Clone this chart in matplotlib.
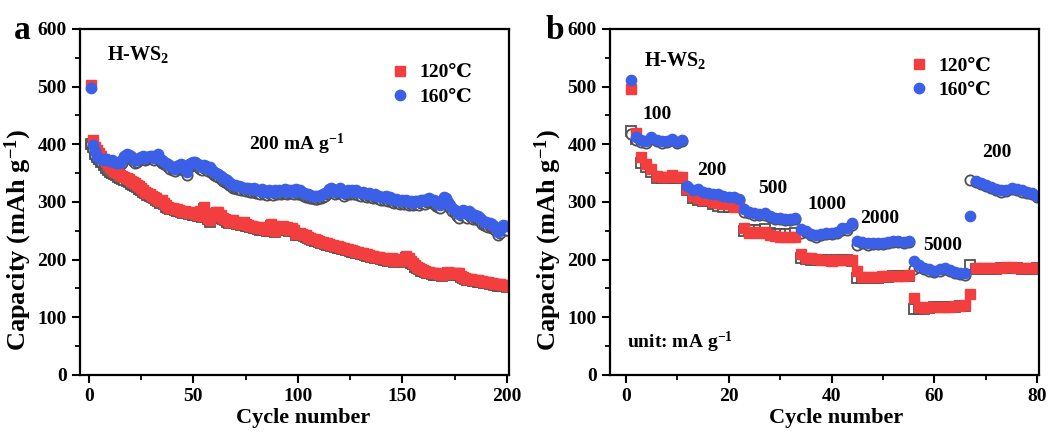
import matplotlib
matplotlib.use("Agg")
import matplotlib.pyplot as plt
from matplotlib.ticker import MultipleLocator
from matplotlib.lines import Line2D

plt.rcParams["font.family"] = ["Liberation Serif", "DejaVu Serif", "DejaVu Sans"]
plt.rcParams["font.weight"] = "bold"
plt.rcParams["mathtext.fontset"] = "custom"
plt.rcParams["mathtext.rm"] = "Liberation Serif:bold"
plt.rcParams["mathtext.bf"] = "Liberation Serif:bold"
plt.rcParams["mathtext.it"] = "Liberation Serif:bold"
plt.rcParams["mathtext.default"] = "rm"

RED = "#F23E3E"
BLUE = "#3B5FE6"
GRAY = "#505050"

# ---- panel a: cycling at 200 mA g-1 (cycles 1..200) ----
cycles_a = list(range(1, 201))

a_120_dis = [
    503, 407, 395, 390, 385, 380, 375, 370, 365, 360,
    357, 354, 352, 350, 347, 345, 343, 341, 339, 337,
    335, 333, 330, 327, 324, 321, 318, 315, 313, 311,
    309, 306, 303, 301, 304, 298, 294, 292, 290, 289,
    288, 287, 286, 284, 283, 285, 282, 281, 283, 280,
    279, 278, 284, 276, 291, 277, 273, 268, 276, 279,
    283, 282, 277, 272, 270, 268, 266, 267, 268, 265,
    264, 263, 262, 265, 261, 260, 259, 258, 257, 256,
    255, 254, 256, 253, 252, 251, 262, 258, 250, 254,
    257, 255, 258, 253, 256, 252, 255, 251, 244, 245,
    247, 244, 243, 242, 240, 238, 236, 235, 234, 232,
    231, 230, 229, 228, 227, 226, 225, 224, 223, 222,
    221, 220, 219, 218, 217, 216, 215, 214, 213, 212,
    211, 210, 209, 208, 207, 206, 205, 204, 204, 203,
    202, 201, 200, 199, 203, 198, 200, 201, 199, 200,
    198, 206, 203, 197, 194, 190, 187, 185, 183, 182,
    180, 179, 178, 177, 176, 176, 175, 175, 174, 175,
    176, 178, 177, 175, 176, 177, 176, 172, 170, 168,
    167, 166, 166, 165, 165, 164, 163, 163, 162, 162,
    161, 160, 159, 158, 158, 157, 157, 156, 156, 155,
]
a_120_chg = [
    401, 396, 384, 378, 374, 369, 364, 359, 355, 352,
    350, 348, 346, 344, 342, 340, 338, 336, 334, 332,
    330, 328, 326, 323, 320, 317, 315, 312, 310, 308,
    306, 304, 301, 299, 302, 296, 292, 290, 288, 287,
    286, 285, 284, 282, 281, 282, 280, 279, 280, 278,
    277, 276, 281, 274, 287, 274, 271, 266, 273, 276,
    279, 279, 274, 270, 268, 266, 264, 265, 265, 263,
    262, 261, 260, 262, 259, 258, 257, 256, 255, 254,
    253, 252, 253, 251, 250, 249, 258, 255, 248, 251,
    254, 252, 255, 251, 253, 250, 252, 249, 242, 243,
    245, 242, 241, 240, 238, 236, 234, 233, 232, 230,
    229, 228, 227, 226, 225, 224, 223, 222, 221, 220,
    219, 218, 217, 216, 215, 214, 213, 212, 211, 210,
    209, 208, 207, 206, 205, 204, 203, 202, 202, 201,
    200, 199, 198, 197, 200, 196, 198, 199, 197, 198,
    196, 203, 200, 195, 192, 188, 185, 183, 181, 180,
    178, 177, 176, 175, 174, 174, 173, 173, 172, 173,
    174, 176, 175, 173, 174, 175, 174, 170, 168, 166,
    165, 164, 164, 163, 163, 162, 161, 161, 160, 160,
    159, 158, 157, 156, 156, 155, 155, 154, 154, 153,
]
a_160_dis = [
    497, 398, 388, 380, 376, 374, 373, 375, 372, 371,
    373, 370, 368, 370, 368, 372, 380, 383, 382, 380,
    375, 372, 373, 376, 378, 379, 377, 378, 380, 379,
    377, 380, 384, 375, 372, 370, 368, 365, 362, 360,
    358, 362, 364, 366, 360, 358, 352, 365, 368, 370,
    369, 366, 363, 360, 364, 362, 358, 360, 355, 352,
    350, 348, 345, 342, 340, 338, 335, 332, 330, 329,
    328, 327, 326, 325, 324, 325, 323, 322, 324, 321,
    320, 319, 322, 318, 317, 320, 318, 317, 320, 318,
    321, 319, 320, 322, 318, 321, 320, 318, 322, 319,
    320, 317, 315, 314, 313, 312, 311, 310, 310, 311,
    312, 313, 315, 318, 322, 325, 322, 318, 321, 324,
    318, 316, 318, 320, 319, 321, 318, 320, 317, 316,
    318, 315, 314, 316, 313, 312, 313, 311, 310, 309,
    308, 310, 306, 308, 305, 304, 305, 303, 302, 304,
    301, 303, 300, 302, 299, 301, 302, 300, 303, 304,
    302, 305, 306, 304, 303, 298, 296, 295, 303, 309,
    306, 300, 295, 290, 286, 282, 279, 283, 286, 282,
    279, 284, 280, 276, 278, 275, 273, 268, 266, 265,
    263, 264, 261, 259, 255, 248, 252, 260, 258, 258,
]
a_160_chg = [
    400, 392, 380, 374, 371, 369, 368, 370, 367, 366,
    368, 366, 364, 366, 364, 368, 376, 379, 378, 376,
    371, 368, 369, 372, 374, 375, 373, 374, 376, 375,
    373, 376, 380, 371, 368, 366, 364, 361, 357, 355,
    353, 357, 359, 361, 355, 353, 347, 360, 363, 365,
    364, 361, 358, 355, 359, 357, 353, 355, 350, 347,
    345, 343, 340, 337, 335, 333, 330, 327, 325, 324,
    323, 322, 321, 320, 319, 320, 318, 317, 319, 316,
    315, 314, 317, 313, 312, 315, 313, 312, 315, 313,
    316, 314, 315, 317, 313, 316, 315, 313, 317, 314,
    315, 312, 310, 309, 308, 307, 306, 305, 305, 306,
    307, 308, 310, 313, 317, 320, 317, 313, 316, 319,
    313, 311, 313, 315, 314, 316, 313, 315, 312, 311,
    313, 310, 309, 311, 308, 307, 308, 306, 305, 304,
    303, 305, 301, 303, 300, 299, 300, 298, 297, 299,
    296, 298, 295, 297, 294, 296, 297, 295, 298, 299,
    297, 300, 301, 299, 298, 293, 291, 290, 298, 303,
    300, 294, 289, 284, 280, 276, 273, 277, 280, 276,
    273, 278, 274, 270, 272, 269, 267, 262, 260, 259,
    257, 258, 255, 253, 249, 242, 246, 254, 252, 252,
]

# ---- panel b: rate test (cycles 1..80) ----
cycles_b = list(range(1, 81))
b_120_dis = [
    495, 420, 378, 365, 358, 345, 343, 344, 347, 343, 343,
    322, 310, 307, 303, 305, 300, 298, 297, 296, 292, 293,
    255, 246, 248, 247, 248, 242, 241, 239, 240, 240, 240,
    210, 203, 202, 201, 200, 200, 198, 200, 200, 200, 199,
    180, 170, 170, 170, 170, 171, 171, 172, 172, 172, 173,
    134, 117, 116, 117, 118, 118, 118, 118, 119, 120, 121,
    141, 185, 185, 185, 185, 185, 186, 187, 187, 186, 185, 185, 185, 186,
]
b_120_chg = [
    423, 410, 368, 360, 352, 341, 341, 341, 342, 341, 341,
    320, 307, 303, 301, 302, 297, 293, 292, 292, 291, 291,
    250, 252, 252, 252, 253, 246, 245, 245, 245, 245, 246,
    203, 201, 200, 200, 199, 199, 198, 199, 199, 199, 198,
    168, 169, 169, 169, 169, 170, 170, 171, 171, 171, 172,
    114, 115, 115, 116, 117, 117, 117, 117, 118, 119, 120,
    190, 184, 184, 184, 184, 184, 185, 186, 186, 185, 184, 184, 184, 185,
]
b_160_dis = [
    512, 413, 407, 405, 413, 407, 405, 406, 410, 404, 408,
    327, 320, 322, 317, 315, 313, 313, 310, 308, 308, 305,
    288, 283, 280, 279, 280, 276, 272, 272, 270, 271, 272,
    253, 250, 245, 242, 245, 246, 246, 248, 255, 254, 263,
    233, 230, 228, 229, 229, 229, 230, 232, 232, 231, 233,
    198, 190, 185, 183, 180, 183, 185, 182, 178, 177, 176,
    276, 337, 333, 330, 326, 322, 320, 321, 325, 323, 320, 318, 315, 311,
]
b_160_chg = [
    417, 408, 404, 403, 410, 405, 403, 404, 407, 402, 405,
    323, 318, 319, 315, 313, 311, 311, 308, 306, 306, 303,
    282, 281, 278, 277, 278, 274, 270, 270, 268, 269, 270,
    247, 248, 243, 240, 243, 244, 244, 246, 252, 252, 260,
    226, 228, 226, 227, 227, 227, 228, 230, 230, 229, 231,
    184, 188, 183, 181, 178, 181, 183, 180, 176, 175, 174,
    338, 335, 331, 328, 324, 320, 318, 319, 323, 321, 318, 316, 313, 309,
]

rate_labels = ["100", "200", "500", "1000", "2000", "5000", "200"]
rate_label_xy = [(6.1, 451), (16.8, 355), (28.6, 324), (39.1, 295),
                 (49.4, 272), (61.6, 225), (72.2, 385)]

fig = plt.figure(figsize=(10.59, 4.32), dpi=100)
ax_a = fig.add_axes([0.0755, 0.132, 0.405, 0.801])
ax_b = fig.add_axes([0.576, 0.132, 0.405, 0.801])


def draw_panel(ax, x, r_dis, r_chg, b_dis, b_chg):
    ax.plot(x, r_chg, ls="none", marker="s", ms=6.8, mfc="white", mec=GRAY, mew=1.3)
    ax.plot(x, b_chg, ls="none", marker="o", ms=7.4, mfc="white", mec=GRAY, mew=1.3)
    ax.plot(x, r_dis, ls="none", marker="s", ms=6.8, color=RED, mec=RED)
    ax.plot(x, b_dis, ls="none", marker="o", ms=7.4, color=BLUE, mec=BLUE)


def style_axes(ax, xmaj, xmin, leg_anchor, title_xy, xlab_x):
    ax.set_ylim(0, 600)
    ax.yaxis.set_major_locator(MultipleLocator(100))
    ax.yaxis.set_minor_locator(MultipleLocator(50))
    ax.xaxis.set_major_locator(MultipleLocator(xmaj))
    ax.xaxis.set_minor_locator(MultipleLocator(xmin))
    for s in ax.spines.values():
        s.set_linewidth(1.6)
    ax.tick_params(which="major", direction="out", length=6, width=1.5,
                   labelsize=14, top=False, right=False)
    ax.tick_params(which="minor", direction="out", length=3.5, width=1.3,
                   top=False, right=False)
    for lab in ax.get_xticklabels() + ax.get_yticklabels():
        lab.set_fontweight("bold")
    ax.set_xlabel("Cycle number", fontsize=16, fontweight="bold")
    ax.set_ylabel("Capacity (mAh g$^{-1}$)", fontsize=19, fontweight="bold")
    ax.xaxis.set_label_coords(xlab_x, -0.095)
    ax.yaxis.set_label_coords(-0.108, 0.39)
    handles = [
        Line2D([], [], ls="none", marker="s", ms=6.5, color=RED),
        Line2D([], [], ls="none", marker="o", ms=7.5, color=BLUE),
    ]
    ax.legend(handles, ["120\u2103", "160\u2103"], loc="upper right",
              bbox_to_anchor=leg_anchor, frameon=False, fontsize=14,
              handletextpad=0.4, labelspacing=0.35, handlelength=1.2)
    ax.text(title_xy[0], title_xy[1], "H-WS$_2$", transform=ax.transAxes,
            fontsize=14.5, fontweight="bold", va="center", ha="left")


draw_panel(ax_a, cycles_a, a_120_dis, a_120_chg, a_160_dis, a_160_chg)
ax_a.set_xlim(-4.3, 201)
style_axes(ax_a, 50, 25, (0.955, 0.95), (0.063, 0.925), 0.52)
ax_a.text(99.5, 399, "200 mA g$^{-1}$", fontsize=14, fontweight="bold",
          ha="center", va="center")

draw_panel(ax_b, cycles_b, b_120_dis, b_120_chg, b_160_dis, b_160_chg)
ax_b.set_xlim(-3.05, 80.3)
style_axes(ax_b, 20, 10, (0.93, 0.97), (0.08, 0.91), 0.528)
ax_b.text(0.04, 57, "unit: mA g$^{-1}$", fontsize=14, fontweight="bold",
          ha="left", va="center", transform=ax_b.get_yaxis_transform())
for lab, (tx, ty) in zip(rate_labels, rate_label_xy):
    ax_b.text(tx, ty, lab, fontsize=14, fontweight="bold", ha="center", va="center")

fig.text(0.021, 0.93, "a", fontsize=24, fontweight="bold", ha="center", va="center")
fig.text(0.524, 0.93, "b", fontsize=24, fontweight="bold", ha="center", va="center")

fig.savefig("out.png", dpi=100)
